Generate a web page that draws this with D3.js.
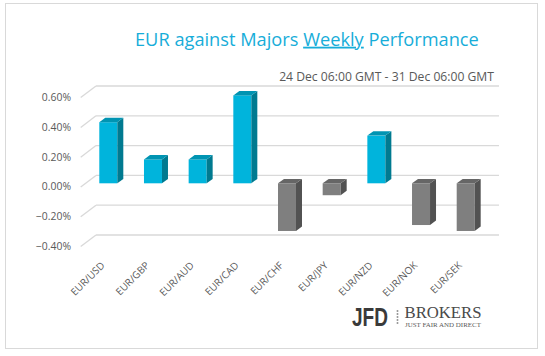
<!DOCTYPE html>
<html><head><meta charset="utf-8">
<script src="https://cdn.jsdelivr.net/npm/d3@7"></script>
<style>body{margin:0;background:#fff;} svg{display:block;}</style>
</head><body>
<svg id="c" width="545" height="356"></svg>
<script>
const categories = ["EUR/USD","EUR/GBP","EUR/AUD","EUR/CAD","EUR/CHF","EUR/JPY","EUR/NZD","EUR/NOK","EUR/SEK"];
const values = [0.41, 0.16, 0.16, 0.59, -0.32, -0.08, 0.32, -0.28, -0.32];
const yTicks = [0.6, 0.4, 0.2, 0, -0.2, -0.4];
const titleParts = ["EUR against Majors ", "Weekly", " Performance"];
const subtitle = "24 Dec 06:00 GMT - 31 Dec 06:00 GMT";

const svg = d3.select("#c");
const FONT = "'Open Sans', 'Liberation Sans', sans-serif";

function fit(sel, target) {
  const n = sel.node();
  const w = n.getComputedTextLength();
  const fs = parseFloat(sel.attr("font-size"));
  sel.attr("font-size", (fs * target / w).toFixed(2));
}

// frame
svg.append("rect").attr("x",5.5).attr("y",3.5).attr("width",532).attr("height",345)
  .attr("fill","#fff").attr("stroke","#D9D9D9").attr("stroke-width",1);

// title
const title = svg.append("text").attr("x",135).attr("y",45.7)
  .attr("font-family",FONT).attr("font-size",19).attr("fill","#17ADD9");
title.selectAll("tspan").data(titleParts).join("tspan")
  .text(d=>d)
  .style("text-decoration",(d,i)=> i===1 ? "underline" : null);
fit(title, 344);

svg.append("text").attr("x",494).attr("y",81).attr("text-anchor","end")
  .attr("font-family",FONT).attr("font-size",12).attr("fill","#595959")
  .text(subtitle).call(s=>fit(s,215));

// scales
const yBack = d3.scaleLinear().domain([-0.4,0.6]).range([235,86]);
const barDrop = 7.9; // front plane of bars vs back wall
const yFront = d3.scaleLinear().domain([-0.4,0.6]).range([235+barDrop,86+barDrop]);
const x = d3.scaleBand().domain(categories).range([85.9,488.1]).paddingInner(0.597).paddingOuter(0.3);
const wallX0 = 96, wallX1 = 499, sideDX = -15.3, sideDY = 11.6;
const dx = 6, dy = -4.4;

// gridlines back wall + side diagonals
const grid = svg.append("g").attr("stroke","#D9D9D9").attr("stroke-width",1.3).attr("fill","none");
grid.selectAll("line.h").data(yTicks).join("line").attr("class","h")
  .attr("x1",wallX0).attr("x2",wallX1).attr("y1",d=>yBack(d)).attr("y2",d=>yBack(d));
grid.selectAll("line.d").data(yTicks).join("line").attr("class","d")
  .attr("x1",wallX0+sideDX).attr("y1",d=>yBack(d)+sideDY).attr("x2",wallX0).attr("y2",d=>yBack(d));

// y labels
svg.append("g").selectAll("text").data(yTicks).join("text")
  .attr("x",71).attr("y",d=>yBack(d)+11.3).attr("dy","0.35em").attr("text-anchor","end")
  .attr("font-family",FONT).attr("font-size",10.4).attr("fill","#595959")
  .text(d=>d3.format(".2f")(d)+"%");

// bars
const colors = {
  pos:{front:"#00B4DC", side:"#007A90", top:"#0094B2"},
  neg:{front:"#7F7F7F", side:"#525252", top:"#666666"}
};
const bars = svg.append("g").selectAll("g").data(categories.map((c,i)=>({c,v:values[i]}))).join("g");
bars.each(function(d){
  const g = d3.select(this);
  const col = d.v>=0 ? colors.pos : colors.neg;
  const x0 = x(d.c), x1 = x0 + x.bandwidth();
  const yTop = yFront(Math.max(d.v,0)), yBot = yFront(Math.min(d.v,0));
  g.append("rect").attr("x",x0).attr("y",yTop).attr("width",x.bandwidth()).attr("height",yBot-yTop)
    .attr("fill",col.front);
  g.append("path").attr("d",`M${x1},${yTop}L${x1+dx},${yTop+dy}L${x1+dx},${yBot+dy}L${x1},${yBot}Z`)
    .attr("fill",col.side);
  g.append("path").attr("d",`M${x0},${yTop}L${x0+dx},${yTop+dy}L${x1+dx},${yTop+dy}L${x1},${yTop}Z`)
    .attr("fill",col.top);
});

// x labels
svg.append("g").selectAll("text").data(categories).join("text")
  .attr("transform",d=>`translate(${x(d)+x.bandwidth()/2-3},266) rotate(-45)`)
  .attr("text-anchor","end").attr("font-family",FONT).attr("font-size",10).attr("fill","#595959")
  .text(d=>d);

// logo
const logo = svg.append("g");
logo.append("text").attr("x",352).attr("y",326).attr("font-family","'Liberation Sans', Arial, sans-serif")
  .attr("font-weight","bold").attr("font-size",26).attr("fill","#3A3A3A")
  .attr("textLength",36).attr("lengthAdjust","spacingAndGlyphs")
  .text("JFD");
logo.append("line").attr("x1",397.5).attr("x2",397.5).attr("y1",310).attr("y2",325)
  .attr("stroke","#9A9A9A").attr("stroke-width",1.6).attr("stroke-dasharray","2,1");
logo.append("text").attr("x",404.5).attr("y",317.5).attr("font-family","'Liberation Serif', serif")
  .attr("font-size",15).attr("fill","#4A4A4A").text("BROKERS").call(s=>fit(s,77));
logo.append("text").attr("x",405).attr("y",327).attr("font-family","'Liberation Serif', serif")
  .attr("font-size",5.5).attr("fill","#5A5A5A").text("JUST FAIR AND DIRECT").call(s=>fit(s,76));
</script>
</body></html>
